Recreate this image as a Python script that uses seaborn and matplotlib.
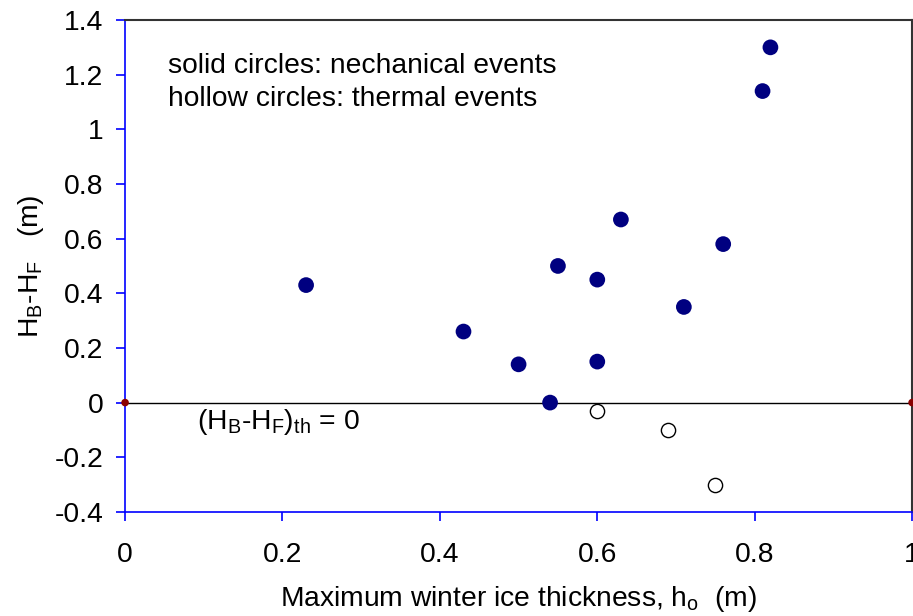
import matplotlib
matplotlib.use("Agg")
import matplotlib.pyplot as plt
import seaborn as sns
import pandas as pd

# Data
mech_x = [0.23, 0.43, 0.50, 0.55, 0.60, 0.60, 0.54, 0.63, 0.71, 0.76, 0.81, 0.82]
mech_y = [0.43, 0.26, 0.14, 0.50, 0.45, 0.15, 0.00, 0.67, 0.35, 0.58, 1.14, 1.30]
therm_x = [0.60, 0.69, 0.75]
therm_y = [-0.03, -0.10, -0.30]
thresh_x = [0.0, 1.0]
thresh_y = [0.0, 0.0]
x_ticks = [0, 0.2, 0.4, 0.6, 0.8, 1]
x_ticklabels = ["0", "0.2", "0.4", "0.6", "0.8", "1"]
y_ticks = [-0.4, -0.2, 0, 0.2, 0.4, 0.6, 0.8, 1, 1.2, 1.4]
y_ticklabels = ["-0.4", "-0.2", "0", "0.2", "0.4", "0.6", "0.8", "1", "1.2", "1.4"]

sns.set_theme(style="white")
plt.rcParams['font.family'] = ['Liberation Sans', 'DejaVu Sans']
plt.rcParams['mathtext.fontset'] = 'custom'
plt.rcParams['mathtext.rm'] = 'Liberation Sans'
plt.rcParams['mathtext.it'] = 'Liberation Sans:italic'
plt.rcParams['text.color'] = 'black'
plt.rcParams['axes.labelcolor'] = 'black'

FS = 20.3

fig = plt.figure(figsize=(9.13, 6.16), dpi=100)
ax = fig.add_axes([0.137, 0.169, 0.862, 0.7985])

df_m = pd.DataFrame({"x": mech_x, "y": mech_y})
df_t = pd.DataFrame({"x": therm_x, "y": therm_y})
df_th = pd.DataFrame({"x": thresh_x, "y": thresh_y})

sns.lineplot(data=df_th, x="x", y="y", ax=ax, color="black", linewidth=1.0, zorder=2)
sns.scatterplot(data=df_th, x="x", y="y", ax=ax, color="#8b0000", s=30, edgecolor="none",
                zorder=5, clip_on=False)
sns.scatterplot(data=df_m, x="x", y="y", ax=ax, color="#000080", s=128, edgecolor="none", zorder=4)
sns.scatterplot(data=df_t, x="x", y="y", ax=ax, facecolor="white", edgecolor="black",
                linewidth=1.0, s=105, zorder=4)

ax.set_xlim(0, 1)
ax.set_ylim(-0.4, 1.4)
ax.set_xticks(x_ticks)
ax.set_xticklabels(x_ticklabels)
ax.set_yticks(y_ticks)
ax.set_yticklabels(y_ticklabels)

for side in ["left", "bottom"]:
    ax.spines[side].set_color("#0000ff")
    ax.spines[side].set_linewidth(1.2)
for side in ["top", "right"]:
    ax.spines[side].set_color("#333333")
    ax.spines[side].set_linewidth(1.5)
    ax.spines[side].set_visible(True)

ax.tick_params(axis="both", which="major", direction="out", length=6.5, width=1.2,
               color="#0000ff", labelsize=FS, labelcolor="black",
               left=True, bottom=True)
ax.tick_params(axis="y", pad=9)
ax.tick_params(axis="x", pad=15)

ax.set_xlabel(r"Maximum winter ice thickness, h$_\mathrm{o}$  (m)", fontsize=FS, labelpad=12,
              color="black")
ax.set_ylabel(r"H$_\mathrm{B}$-H$_\mathrm{F}$   (m)", fontsize=FS, labelpad=6, color="black")

ax.text(0.055, 1.23, "solid circles: nechanical events", fontsize=FS, ha="left", va="center",
        color="black")
ax.text(0.055, 1.11, "hollow circles: thermal events", fontsize=FS, ha="left", va="center",
        color="black")
ax.text(0.092, -0.07, r"(H$_\mathrm{B}$-H$_\mathrm{F}$)$_\mathrm{th}$ = 0", fontsize=FS,
        ha="left", va="center", color="black")

ax.grid(False)
fig.savefig("out.png", dpi=100)
